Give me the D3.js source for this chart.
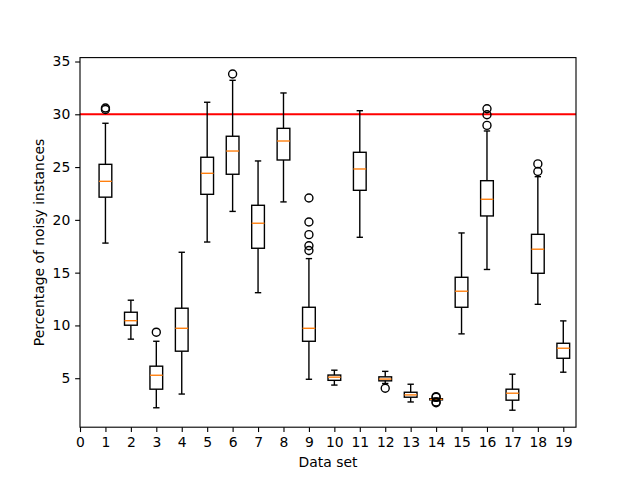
<!DOCTYPE html>
<html>
<head>
<meta charset="utf-8">
<script src="https://cdn.jsdelivr.net/npm/d3@7/dist/d3.min.js"></script>
<style>
  html, body { margin: 0; padding: 0; background: #fff; }
  svg { display: block; }
  text { font-family: "DejaVu Sans", sans-serif; }
</style>
</head>
<body>
<svg id="chart" width="640" height="480"></svg>
<script>
// ---- data ----
const dataSets    = [1, 2, 3, 4, 5, 6, 7, 8, 9, 10, 11, 12, 13, 14, 15, 16, 17, 18, 19];
const whiskerLow  = [17.8, 8.7, 2.2, 3.5, 17.9, 20.8, 13.1, 21.7, 4.9, 4.35, 18.35, 4.5, 2.75, 2.85, 9.2, 15.3, 1.97, 12.0, 5.57];
const quartile1   = [22.15, 10.02, 3.96, 7.56, 22.42, 24.32, 17.31, 25.67, 8.5, 4.8, 22.8, 4.75, 3.2, 2.95, 11.72, 20.37, 2.92, 14.94, 6.89];
const medians     = [23.65, 10.45, 5.28, 9.73, 24.41, 26.52, 19.68, 27.47, 9.73, 5.1, 24.82, 4.92, 3.42, 3.0, 13.24, 21.95, 3.58, 17.22, 7.84];
const quartile3   = [25.26, 11.25, 6.14, 11.63, 25.93, 27.92, 21.38, 28.67, 11.72, 5.3, 26.4, 5.13, 3.67, 3.06, 14.56, 23.71, 3.96, 18.63, 8.31];
const whiskerHigh = [29.15, 12.39, 8.5, 16.93, 31.14, 33.22, 25.58, 32.02, 16.33, 5.76, 30.34, 5.65, 4.43, 3.12, 18.76, 28.42, 5.38, 24.09, 10.43];
const outliers    = [[30.45, 30.6], [], [9.36], [], [], [33.82], [], [], [22.07, 19.8, 18.6, 17.55, 17.1], [], [], [4.05], [], [3.25, 3.18, 2.75, 2.68], [], [30.53, 29.96, 28.95], [], [25.3, 24.58], []];
const threshold   = 30;
const xTicks      = d3.range(0, 20);
const yTicks      = [5, 10, 15, 20, 25, 30, 35];
const xLabel      = "Data set";
const yLabel      = "Percentage of noisy instances";

// ---- layout ----
const W = 640, H = 480;
const L = 80, R = 576, T = 57.6, B = 427.2;
const svg = d3.select("#chart");

const x = d3.scaleLinear().domain([0, 19.5]).range([L, R]);
const y = d3.scaleLinear().domain([0.36, 35.37]).range([B, T]);

const boxW = 0.5, capW = 0.25;
const lw = 1.39;

const g = svg.append("g");

// red threshold line
g.append("line")
  .attr("x1", L).attr("x2", R)
  .attr("y1", y(threshold)).attr("y2", y(threshold))
  .attr("stroke", "#ff0000").attr("stroke-width", 2.08);

const boxes = g.selectAll("g.box").data(dataSets.map((d, i) => ({
  pos: d, lo: whiskerLow[i], q1: quartile1[i], med: medians[i], q3: quartile3[i], hi: whiskerHigh[i], out: outliers[i]
}))).join("g").attr("class", "box");

// whiskers
boxes.append("line")
  .attr("x1", d => x(d.pos)).attr("x2", d => x(d.pos))
  .attr("y1", d => y(d.q1)).attr("y2", d => y(d.lo))
  .attr("stroke", "#000").attr("stroke-width", lw);
boxes.append("line")
  .attr("x1", d => x(d.pos)).attr("x2", d => x(d.pos))
  .attr("y1", d => y(d.q3)).attr("y2", d => y(d.hi))
  .attr("stroke", "#000").attr("stroke-width", lw);
// caps
boxes.append("line")
  .attr("x1", d => x(d.pos - capW / 2)).attr("x2", d => x(d.pos + capW / 2))
  .attr("y1", d => y(d.lo)).attr("y2", d => y(d.lo))
  .attr("stroke", "#000").attr("stroke-width", lw);
boxes.append("line")
  .attr("x1", d => x(d.pos - capW / 2)).attr("x2", d => x(d.pos + capW / 2))
  .attr("y1", d => y(d.hi)).attr("y2", d => y(d.hi))
  .attr("stroke", "#000").attr("stroke-width", lw);
// box
boxes.append("rect")
  .attr("x", d => x(d.pos - boxW / 2))
  .attr("width", d => x(d.pos + boxW / 2) - x(d.pos - boxW / 2))
  .attr("y", d => y(d.q3))
  .attr("height", d => y(d.q1) - y(d.q3))
  .attr("fill", "none").attr("stroke", "#000").attr("stroke-width", lw);
// median
boxes.append("line")
  .attr("x1", d => x(d.pos - boxW / 2)).attr("x2", d => x(d.pos + boxW / 2))
  .attr("y1", d => y(d.med)).attr("y2", d => y(d.med))
  .attr("stroke", "#ff7f0e").attr("stroke-width", lw);
// fliers
boxes.selectAll("circle").data(d => d.out.map(v => ({ pos: d.pos, v })))
  .join("circle")
  .attr("cx", d => x(d.pos)).attr("cy", d => y(d.v)).attr("r", 4.0)
  .attr("fill", "none").attr("stroke", "#000").attr("stroke-width", lw);

// axes
const xAxis = d3.axisBottom(x).tickValues(xTicks).tickFormat(d3.format("d"))
  .tickSize(4.86).tickPadding(4.86);
const yAxis = d3.axisLeft(y).tickValues(yTicks).tickFormat(d3.format("d"))
  .tickSize(4.86).tickPadding(4.86);

const gx = svg.append("g").attr("transform", `translate(0,${B})`).call(xAxis);
const gy = svg.append("g").attr("transform", `translate(${L},0)`).call(yAxis);
[gx, gy].forEach(a => {
  a.select(".domain").remove();
  a.selectAll(".tick line").attr("stroke", "#000").attr("stroke-width", 1.11);
  a.selectAll(".tick text").attr("fill", "#000")
    .style("font-family", "'DejaVu Sans', sans-serif").style("font-size", "13.9px");
});

// spines
svg.append("rect")
  .attr("x", L).attr("y", T).attr("width", R - L).attr("height", B - T)
  .attr("fill", "none").attr("stroke", "#000").attr("stroke-width", 1.11);

// labels
svg.append("text")
  .attr("x", (L + R) / 2).attr("y", 467)
  .attr("text-anchor", "middle")
  .style("font-size", "13.9px").attr("fill", "#000")
  .text(xLabel);
svg.append("text")
  .attr("transform", `translate(44,${(T + B) / 2}) rotate(-90)`)
  .attr("text-anchor", "middle")
  .style("font-size", "13.9px").attr("fill", "#000")
  .text(yLabel);
</script>
</body>
</html>
